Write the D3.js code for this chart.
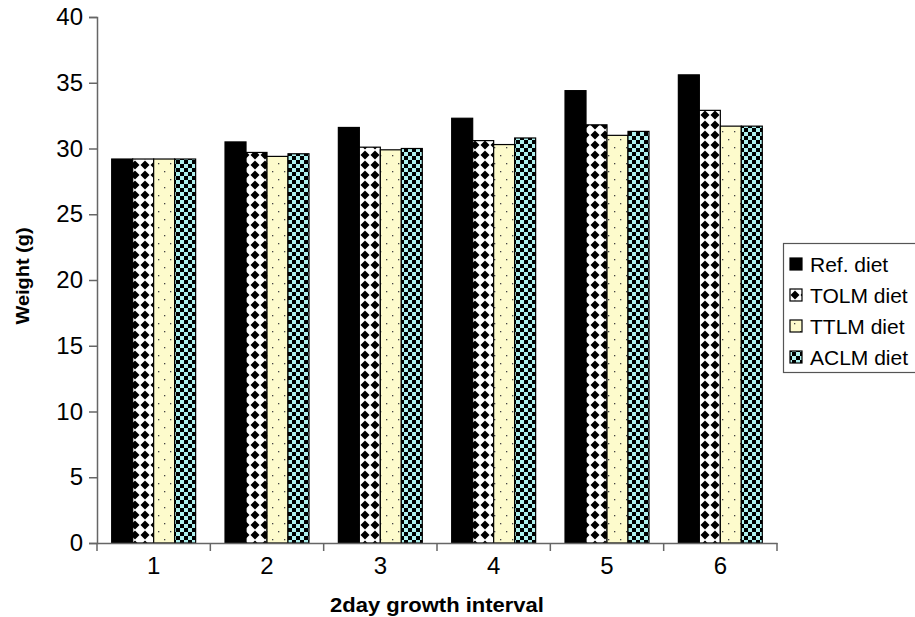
<!DOCTYPE html>
<html><head><meta charset="utf-8">
<script src="https://cdn.jsdelivr.net/npm/d3@7"></script>
<style>body{margin:0;background:#fff}svg{display:block}text{font-family:"Liberation Sans",Arial,sans-serif}</style>
</head><body><svg id="c" width="915" height="617"></svg>
<script>
const categories = ["1","2","3","4","5","6"];
const seriesNames = ["Ref. diet","TOLM diet","TTLM diet","ACLM diet"];
const refDiet  = [29.2, 30.5, 31.6, 32.3, 34.4, 35.6];
const tolmDiet = [29.2, 29.7, 30.1, 30.6, 31.8, 32.9];
const ttlmDiet = [29.2, 29.4, 29.9, 30.3, 31.0, 31.7];
const aclmDiet = [29.2, 29.6, 30.0, 30.8, 31.3, 31.7];
const yTicks = [0,5,10,15,20,25,30,35,40];
const seriesValues = [refDiet, tolmDiet, ttlmDiet, aclmDiet];
const fills = ["#000","url(#pDiamond)","url(#pDots)","url(#pCheck)"];

const svg = d3.select("#c");
const defs = svg.append("defs");
const pd = defs.append("pattern").attr("id","pDiamond").attr("patternUnits","userSpaceOnUse").attr("width",10).attr("height",10);
pd.append("rect").attr("width",10).attr("height",10).attr("fill","#fff");
pd.append("path").attr("d","M5,0.5 L9.5,5 L5,9.5 L0.5,5 Z").attr("fill","#000");
const pt = defs.append("pattern").attr("id","pDots").attr("patternUnits","userSpaceOnUse").attr("width",12).attr("height",16);
pt.append("rect").attr("width",12).attr("height",16).attr("fill","#fdfbcc");
pt.append("rect").attr("x",2).attr("y",3).attr("width",1.3).attr("height",1.3).attr("fill","#444");
pt.append("rect").attr("x",8).attr("y",11).attr("width",1.3).attr("height",1.3).attr("fill","#444");
const pc = defs.append("pattern").attr("id","pCheck").attr("patternUnits","userSpaceOnUse").attr("width",8).attr("height",8);
pc.append("rect").attr("width",8).attr("height",8).attr("fill","#aef0ee");
pc.append("rect").attr("width",4).attr("height",4).attr("fill","#000");
pc.append("rect").attr("x",4).attr("y",4).attr("width",4).attr("height",4).attr("fill","#000");

const x0 = d3.scaleBand().domain(categories).range([97,777]).padding(0);
const x1 = d3.scaleBand().domain(seriesNames).range([0,x0.bandwidth()]).paddingInner(0).paddingOuter(0.7);
const y = d3.scaleLinear().domain([0,40]).range([543,17]);

const g = svg.append("g");
categories.forEach((c,i)=>{
  seriesNames.forEach((s,j)=>{
    const v = seriesValues[j][i];
    g.append("rect")
      .attr("x", x0(c)+x1(s))
      .attr("y", y(v))
      .attr("width", x1.bandwidth())
      .attr("height", y(0)-y(v))
      .attr("fill", fills[j])
      .attr("stroke","#000").attr("stroke-width",1.2);
  });
});

const ya = svg.append("g").attr("transform","translate(97,0)")
  .call(d3.axisLeft(y).tickValues(yTicks).tickSize(8).tickPadding(6));
ya.select(".domain").attr("stroke","#666").attr("stroke-width",1.5);
ya.selectAll(".tick line").attr("stroke","#666").attr("stroke-width",1.5);
ya.selectAll("text").attr("font-size",24).attr("fill","#000").style("font-family","Liberation Sans, Arial, sans-serif");

const xa = svg.append("g").attr("transform","translate(0,543)")
  .call(d3.axisBottom(x0).tickSize(0).tickPadding(14));
xa.select(".domain").attr("stroke","#666").attr("stroke-width",1.5);
xa.selectAll("text").attr("font-size",24).attr("fill","#000").style("font-family","Liberation Sans, Arial, sans-serif");
const bounds = categories.map(c=>x0(c)).concat([x0(categories[categories.length-1])+x0.bandwidth()]);
xa.selectAll(".btick").data(bounds).enter().append("line").attr("class","btick")
  .attr("x1",d=>d).attr("x2",d=>d).attr("y1",0).attr("y2",8).attr("stroke","#666").attr("stroke-width",1.5);

svg.append("text").attr("transform","translate(437,612) scale(1.1,1)").attr("text-anchor","middle")
  .attr("font-size",20).attr("font-weight","bold").text("2day growth interval");
svg.append("text").attr("transform","translate(29,276) rotate(-90) scale(1.05,1)").attr("text-anchor","middle")
  .attr("font-size",19).attr("font-weight","bold").text("Weight (g)");

const lg = svg.append("g");
lg.append("rect").attr("x",783.5).attr("y",243.5).attr("width",140).attr("height",129)
  .attr("fill","#fff").attr("stroke","#555").attr("stroke-width",1.2);
seriesNames.forEach((s,j)=>{
  const cy = 264 + j*31;
  lg.append("rect").attr("x",790).attr("y",cy-6).attr("width",12).attr("height",12)
    .attr("fill",fills[j]).attr("stroke","#000").attr("stroke-width",1.2);
  lg.append("text").attr("x",810).attr("y",cy+8).attr("font-size",21).text(s);
});
</script></body></html>
